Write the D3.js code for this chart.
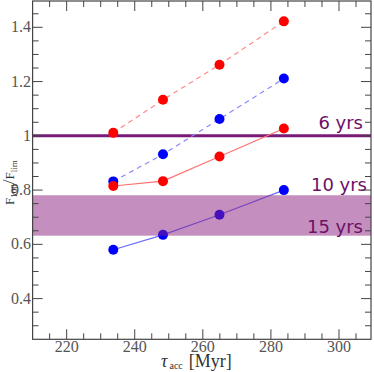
<!DOCTYPE html>
<html>
<head>
<meta charset="utf-8">
<script src="https://cdn.jsdelivr.net/npm/d3@7"></script>
<style>
  body { margin: 0; background: #fff; }
  svg { display: block; }
</style>
</head>
<body>
<script>
const width = 374,
    height = 372;

// tau_acc values [Myr]
const tau = [233.7, 248.3, 264.9, 283.8];

// F100 / Flim for the four runs
const redDashed = [1.011, 1.133, 1.262, 1.422];
const blueDashed = [0.832, 0.932, 1.062, 1.211];
const redSolid = [0.815, 0.833, 0.924, 1.027];
const blueSolid = [0.580, 0.635, 0.709, 0.800];

const xTicks = [220, 240, 260, 280, 300];
const yTicks = [0.4, 0.6, 0.8, 1, 1.2, 1.4];

// detection limits
const lineLevel = 1.0;
const band = [0.632, 0.781];
const limitLabels = [
    {text: "6 yrs", v: 1.0, dy: -7, x: 363},
    {text: "10 yrs", v: 0.781, dy: -4, x: 367},
    {text: "15 yrs", v: 0.632, dy: -3, x: 363}
];

const series = [
    {values: redDashed, stroke: "#ff8a8a", dash: "5,4", fill: "#ff0000"},
    {values: blueDashed, stroke: "#8a8aff", dash: "5,4", fill: "#0000ff"},
    {values: redSolid, stroke: "#ff7070", dash: null, fill: "#ff0000"},
    {values: blueSolid, stroke: "#6a6aff", dash: null, fill: "#0000ff"}
];

const mLeft = 32.6, mRight = 371, mTop = 1, mBottom = 339.3;

const x = d3.scaleLinear().domain([210, 309.4]).range([mLeft, mRight]);
const y = d3.scaleLinear().domain([0.25, 1.497]).range([mBottom, mTop]);

const svg = d3.select("body").append("svg")
    .attr("width", width)
    .attr("height", height);

// limit line
svg.append("line")
    .attr("x1", mLeft).attr("x2", mRight)
    .attr("y1", y(lineLevel)).attr("y2", y(lineLevel))
    .attr("stroke", "#7a1a78")
    .attr("stroke-width", 3);

// series
series.forEach(function (s) {
    const pts = tau.map((t, i) => [t, s.values[i]]);
    svg.append("path")
        .datum(pts)
        .attr("d", d3.line().x(d => x(d[0])).y(d => y(d[1])))
        .attr("fill", "none")
        .attr("stroke", s.stroke)
        .attr("stroke-width", 1.2)
        .attr("stroke-dasharray", s.dash);
    svg.append("g").selectAll("circle")
        .data(pts)
        .enter().append("circle")
        .attr("cx", d => x(d[0]))
        .attr("cy", d => y(d[1]))
        .attr("r", 5)
        .attr("fill", s.fill);
});

// band for 10-15 yrs
svg.append("rect")
    .attr("x", mLeft)
    .attr("width", mRight - mLeft)
    .attr("y", y(band[1]))
    .attr("height", y(band[0]) - y(band[1]))
    .attr("fill", "#891f7d")
    .attr("fill-opacity", 0.5);

svg.append("g").selectAll("text")
    .data(limitLabels)
    .enter().append("text")
    .attr("x", d => d.x)
    .attr("y", d => y(d.v) + d.dy)
    .attr("text-anchor", "end")
    .attr("font-family", "DejaVu Sans")
    .attr("font-size", 18)
    .attr("fill", "#6e0f68")
    .text(d => d.text);

// frame and ticks
const axisColor = "#444";
const frame = svg.append("g");
frame.append("rect")
    .attr("x", mLeft).attr("y", mTop)
    .attr("width", mRight - mLeft).attr("height", mBottom - mTop)
    .attr("fill", "none")
    .attr("stroke", axisColor)
    .attr("stroke-width", 1.2);

const xMinor = d3.range(215, 310, 5);
const yMinor = d3.range(0.3, 1.5, 0.05);

xMinor.forEach(function (v) {
    const major = v % 20 === 0;
    const len = major ? 10 : 6;
    frame.append("line")
        .attr("x1", x(v)).attr("x2", x(v))
        .attr("y1", mBottom).attr("y2", mBottom - len)
        .attr("stroke", axisColor);
    frame.append("line")
        .attr("x1", x(v)).attr("x2", x(v))
        .attr("y1", mTop).attr("y2", mTop + len)
        .attr("stroke", axisColor);
});

yMinor.forEach(function (v) {
    const r = Math.round(v * 100) / 100;
    const major = Math.round(r * 100) % 20 === 0;
    const len = major ? 10 : 6;
    frame.append("line")
        .attr("x1", mLeft).attr("x2", mLeft + len)
        .attr("y1", y(r)).attr("y2", y(r))
        .attr("stroke", axisColor);
    frame.append("line")
        .attr("x1", mRight).attr("x2", mRight - len)
        .attr("y1", y(r)).attr("y2", y(r))
        .attr("stroke", axisColor);
});

// tick labels
svg.append("g").selectAll("text")
    .data(xTicks)
    .enter().append("text")
    .attr("x", d => x(d))
    .attr("y", 352)
    .attr("text-anchor", "middle")
    .attr("font-family", "Liberation Serif")
    .attr("font-size", 16)
    .attr("fill", "#555")
    .text(d => d);

svg.append("g").selectAll("text")
    .data(yTicks)
    .enter().append("text")
    .attr("x", 31)
    .attr("y", d => y(d) + 5)
    .attr("text-anchor", "end")
    .attr("font-family", "Liberation Serif")
    .attr("font-size", 16)
    .attr("fill", "#555")
    .text(d => d);

// axis titles
const xt = svg.append("text")
    .attr("x", 161)
    .attr("y", 367)
    .attr("font-family", "Liberation Serif")
    .attr("font-size", 18)
    .attr("fill", "#333");
xt.append("tspan").attr("font-style", "italic").text("τ");
xt.append("tspan").attr("font-size", 10).attr("dy", 2).attr("dx", 2).text("acc");
xt.append("tspan").attr("dy", -2).attr("dx", 6).text("[Myr]");

const yt = svg.append("text")
    .attr("transform", "translate(14,205) rotate(-90)")
    .attr("font-family", "Liberation Serif")
    .attr("font-size", 13)
    .attr("fill", "#333");
yt.append("tspan").text("F");
yt.append("tspan").attr("font-size", 9).attr("dy", 3).text("100");
yt.append("tspan").attr("font-size", 17).attr("dy", -3).text("/");
yt.append("tspan").text("F");
yt.append("tspan").attr("font-size", 9).attr("dy", 3).text("lim");
</script>
</body>
</html>
